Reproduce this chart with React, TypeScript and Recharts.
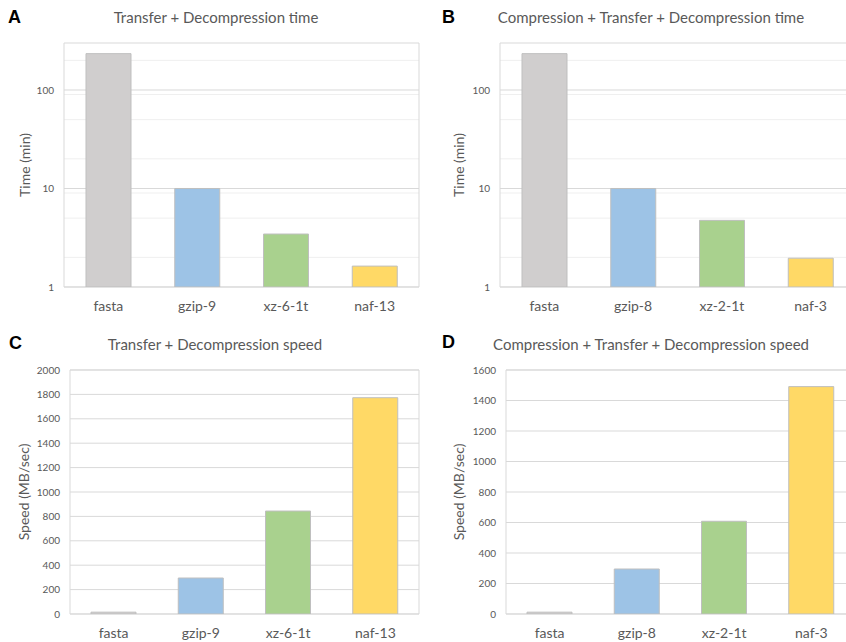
import React from "react";
import {
  BarChart,
  Bar,
  Cell,
  XAxis,
  YAxis,
  CartesianGrid,
  ReferenceArea,
} from "recharts";

// categories
const catsAC = ["fasta", "gzip-9", "xz-6-1t", "naf-13"];
const catsBD = ["fasta", "gzip-8", "xz-2-1t", "naf-3"];

// values
const timeA = [234, 10, 3.45, 1.63];
const timeB = [234, 10, 4.75, 1.96];
const speedC = [15, 295, 844, 1773];
const speedD = [12, 295, 608, 1491];

const barColors = ["#d0cece", "#9dc3e6", "#a9d18e", "#ffd966"];

const logTicks = [1, 10, 100];
const logMinor = [2, 3, 4, 5, 6, 7, 8, 9, 20, 30, 40, 50, 60, 70, 80, 90, 200];
const speedTicksC = [0, 200, 400, 600, 800, 1000, 1200, 1400, 1600, 1800, 2000];
const speedTicksD = [0, 200, 400, 600, 800, 1000, 1200, 1400, 1600];

const FONT = "Lato, 'Open Sans', sans-serif";
const TXT = "#595959";
const GRID = "#d9d9d9";

const toRows = (cats: string[], vals: number[]) =>
  cats.map((name, i) => ({ name, value: vals[i] }));

interface PanelProps {
  cats: string[];
  vals: number[];
  log: boolean;
  domain: [number, number];
  ticks: number[];
  yLabel: string;
  width: number;
  height: number;
  top: number;
  axisWidth: number;
  xHeight: number;
  labelDx: number;
}

function Panel(p: PanelProps) {
  const rows = toRows(p.cats, p.vals);
  return (
    <BarChart
      width={p.width}
      height={p.height}
      data={rows}
      margin={{ top: p.top, right: 4, bottom: 0, left: 0 }}
      barSize={45}
    >
      {p.log && (
        <CartesianGrid
          horizontal
          vertical={false}
          horizontalValues={logMinor}
          stroke="#efefef"
        />
      )}
      <CartesianGrid horizontal vertical={false} horizontalValues={p.ticks} stroke={GRID} />
      <ReferenceArea
        y1={p.domain[0]}
        y2={p.domain[1]}
        fill="none"
        stroke={GRID}
        strokeWidth={1}
        ifOverflow="visible"
      />
      <XAxis
        dataKey="name"
        height={p.xHeight}
        axisLine={false}
        tickLine={false}
        tickSize={0}
        tickMargin={14}
        tick={{ fill: TXT, fontSize: 14, fontFamily: FONT }}
        interval={0}
      />
      <YAxis
        type="number"
        scale={p.log ? "log" : "linear"}
        domain={p.domain}
        ticks={p.ticks}
        allowDataOverflow
        width={p.axisWidth}
        axisLine={false}
        tickLine={false}
        tickSize={0}
        tickMargin={10}
        tick={{ fill: TXT, fontSize: 10, fontFamily: FONT }}
        label={{
          value: p.yLabel,
          angle: -90,
          position: "center",
          dx: p.labelDx,
          fill: TXT,
          fontSize: 14,
          fontFamily: FONT,
        }}
      />
      <Bar dataKey="value" stroke="#bfbfbf" strokeWidth={1} isAnimationActive={false}>
        {rows.map((r, i) => (
          <Cell key={r.name} fill={barColors[i]} />
        ))}
      </Bar>
    </BarChart>
  );
}

const titles = [
  { letter: "A", lx: 8, ly: 23, text: "Transfer + Decompression time", tx: 216, ty: 23 },
  { letter: "B", lx: 442, ly: 23, text: "Compression + Transfer + Decompression time", tx: 651, ty: 23 },
  { letter: "C", lx: 9, ly: 349, text: "Transfer + Decompression speed", tx: 215, ty: 350 },
  { letter: "D", lx: 442, ly: 348, text: "Compression + Transfer + Decompression speed", tx: 651, ty: 350 },
];

export default function App() {
  return (
    <div
      style={{
        position: "fixed",
        left: 0,
        top: 0,
        width: 846,
        height: 642,
        overflow: "hidden",
        background: "#fff",
      }}
    >
      <div style={{ position: "absolute", left: 0, top: 0 }}>
        <Panel cats={catsAC} vals={timeA} log domain={[1, 300]} ticks={logTicks}
          yLabel="Time (min)" width={423} height={321} top={43} axisWidth={64} xHeight={34} labelDx={-7} />
      </div>
      <div style={{ position: "absolute", left: 423, top: 0 }}>
        <Panel cats={catsBD} vals={timeB} log domain={[1, 300]} ticks={logTicks}
          yLabel="Time (min)" width={436} height={321} top={43} axisWidth={77} xHeight={34} labelDx={-2} />
      </div>
      <div style={{ position: "absolute", left: 0, top: 321 }}>
        <Panel cats={catsAC} vals={speedC} log={false} domain={[0, 2000]} ticks={speedTicksC}
          yLabel="Speed (MB/sec)" width={423} height={321} top={49} axisWidth={70} xHeight={28} labelDx={-11} />
      </div>
      <div style={{ position: "absolute", left: 423, top: 321 }}>
        <Panel cats={catsBD} vals={speedD} log={false} domain={[0, 1600]} ticks={speedTicksD}
          yLabel="Speed (MB/sec)" width={436} height={321} top={49} axisWidth={83} xHeight={28} labelDx={-5} />
      </div>
      <svg
        width={846}
        height={642}
        style={{ position: "absolute", left: 0, top: 0, pointerEvents: "none" }}
      >
        {titles.map((t) => (
          <g key={t.letter}>
            <text x={t.lx} y={t.ly} fontFamily="'Liberation Sans', Arial, sans-serif"
              fontWeight="bold" fontSize={18} fill="#000">
              {t.letter}
            </text>
            <text x={t.tx} y={t.ty} textAnchor="middle" fontFamily={FONT} fontSize={15} fill={TXT}>
              {t.text}
            </text>
          </g>
        ))}
      </svg>
    </div>
  );
}
